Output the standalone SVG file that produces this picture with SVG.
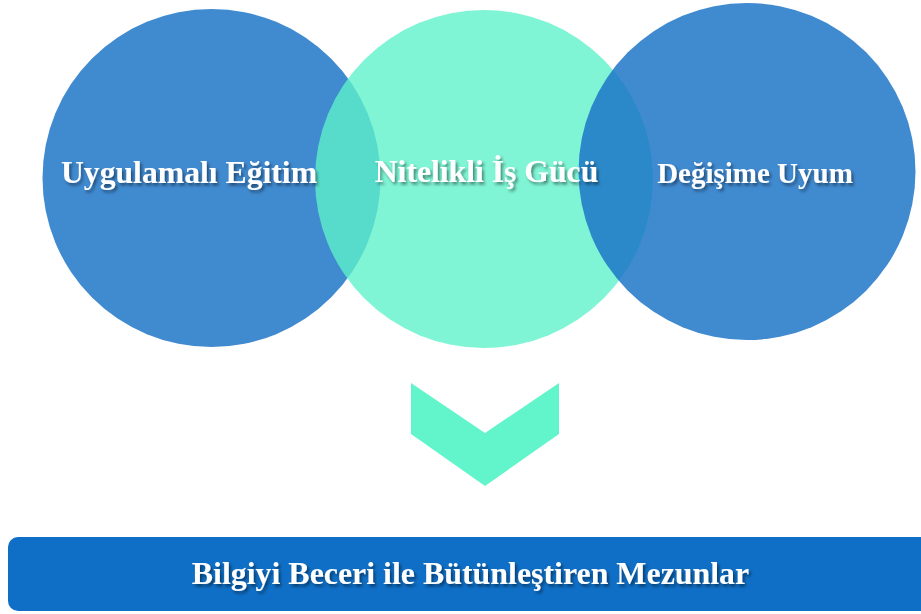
<svg xmlns="http://www.w3.org/2000/svg" width="921" height="614" viewBox="0 0 921 614">
  <defs>
    <filter id="ts" x="-10%" y="-30%" width="120%" height="160%">
      <feDropShadow dx="2" dy="2.5" stdDeviation="1.5" flood-color="#000" flood-opacity="0.45"/>
    </filter>
    <style>
      .blue { fill: #1972c7; fill-opacity: 0.83; }
      .teal { fill: #5ef2ca; fill-opacity: 0.79; }
      .lbl { font-family: "Liberation Serif", "Times New Roman", serif; font-weight: bold; fill: #ffffff; text-anchor: middle; filter: url(#ts); }
    </style>
  </defs>
  <rect width="921" height="614" fill="#ffffff"/>
  <g id="node-uygulamali">
    <circle class="blue" cx="211.5" cy="178" r="169"/>
  </g>
  <g id="node-nitelikli">
    <circle class="teal" cx="484" cy="179" r="169"/>
  </g>
  <g id="node-degisime">
    <circle class="blue" cx="747" cy="171.5" r="168.5"/>
  </g>
  <g id="labels">
    <text class="lbl" x="189" y="183" font-size="31.7">Uygulamalı Eğitim</text>
    <text class="lbl" x="486.5" y="182" font-size="31.7">Nitelikli İş Gücü</text>
    <text class="lbl" x="755" y="183" font-size="29">Değişime Uyum</text>
  </g>
  <g id="connectors">
    <polygon points="411,383 485,433 559,383 559,434 485,486 411,434" fill="#62f5cb"/>
  </g>
  <g id="node-mezunlar">
    <rect x="8" y="537" width="930" height="74" rx="10" ry="10" fill="#0f6fc6"/>
    <text class="lbl" x="470.5" y="584" font-size="31.9">Bilgiyi Beceri ile Bütünleştiren Mezunlar</text>
  </g>
</svg>
